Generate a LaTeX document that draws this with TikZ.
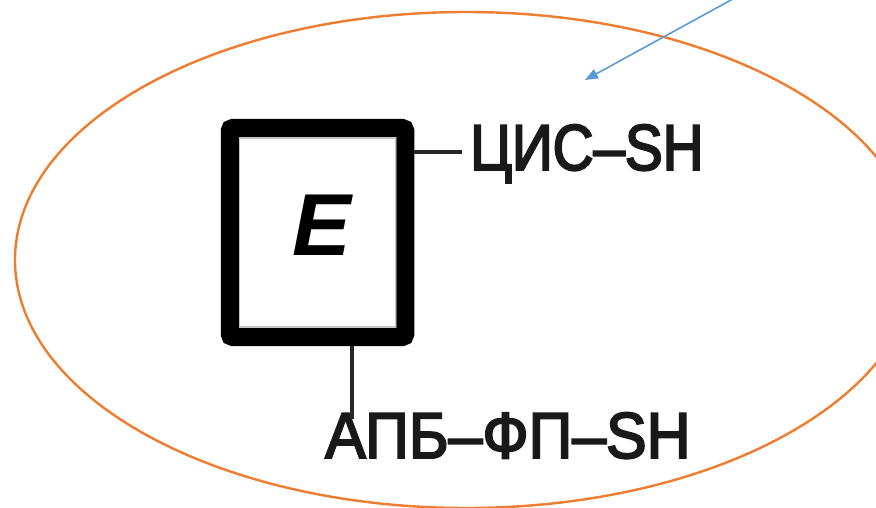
\documentclass[tikz,border=0pt]{standalone}
\usepackage{fontspec}
\setmainfont{Liberation Sans}
\newfontfamily\cisfont[FakeStretch=0.87, FakeBold=3]{Liberation Sans}
\newfontfamily\apbfont[FakeStretch=0.935, FakeBold=3]{Liberation Sans}
\usetikzlibrary{arrows.meta}
\definecolor{ringorange}{RGB}{237,125,49}
\definecolor{pointerblue}{RGB}{91,155,213}
\tikzset{
  ring/.style={draw=ringorange, line width=2.4pt},
  pointer/.style={draw=pointerblue, line width=1.6pt, -{Triangle[length=13pt,width=10pt]}},
  blockbox/.style={draw=black, line width=18pt, rounded corners=3pt, inner sep=0pt,
    minimum width=175.5pt, minimum height=209pt},
  tag/.style={text=black!90, inner sep=0pt},
  wire/.style={draw=black!85, line width=4pt}
}
\begin{document}
\begin{tikzpicture}[x=1pt, y=-1pt]
  \useasboundingbox (0,0) rectangle (876,508);
  \clip (0,0) rectangle (876,508);
  \fill[white] (0,0) rectangle (876,508);

  % enclosing ellipse
  \draw[ring] (466,260) ellipse [x radius=451pt, y radius=248pt];

  % pointer arrow into the ellipse
  \coordinate (ptrstart) at (742,-6);
  \coordinate (ptrend) at (585,80);
  \draw[pointer] (ptrstart) -- (ptrend);

  % the block E
  \node[blockbox] (box) at (317.5,232.5) {};
  \draw[gray!45, line width=1.5pt] (239.5,138) rectangle (395.5,327);
  \node[font=\fontsize{88}{88}\selectfont\bfseries\itshape, inner sep=0pt] (e) at (322,225) {E};

  % terminal labels
  \node[tag, font=\cisfont\fontsize{65}{65}\selectfont, anchor=base west] (cis) at (470,170) {ЦИС–SH};
  \node[tag, font=\apbfont\fontsize{65}{65}\selectfont, anchor=base west] (apb) at (325,458) {АПБ–ФП–SH};

  % connectors from the block to the labels
  \draw[wire] (box.east |- 0,152) -- ([xshift=-8pt]cis.west |- 0,152);
  \draw[wire] ([xshift=34.5pt]box.south) -- ([xshift=34.5pt,yshift=-7pt]box.south |- apb.north);
\end{tikzpicture}
\end{document}
